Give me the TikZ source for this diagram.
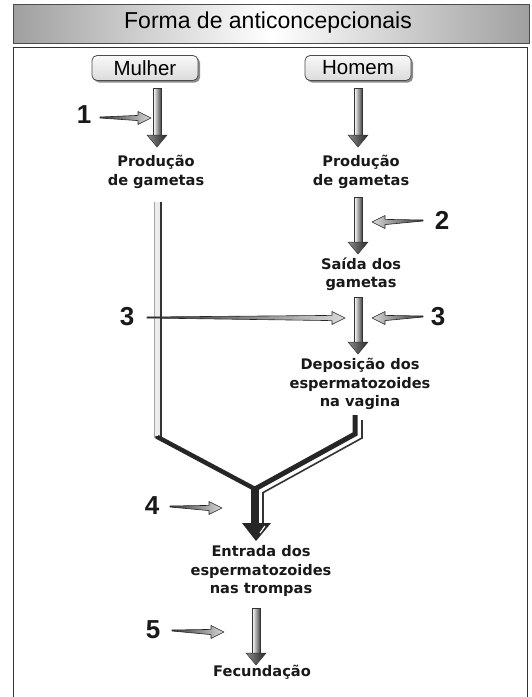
\documentclass[tikz,border=0pt]{standalone}
\usepackage{fontspec}
\setmainfont{Liberation Sans}
\newfontfamily\lblfont{DejaVu Sans}
\usetikzlibrary{calc,shadows}
\newcommand\dnarrow[2]{%
  \shade[shaftst] ($(#1)+(-3.8,0)$) rectangle ($(#2)+(3.8,-12)$);
  \shade[headst] ($(#2)+(-10,-12)$) -- ($(#2)+(10,-12)$) -- (#2) -- cycle;
}
% #1 tail, #2 tip, #3 head length (signed), #4 style
\newcommand\ptrarrow[4]{%
  \shade[#4] (#1) -- ($(#2)+(#3,-2.6)$) -- ($(#2)+(#3,-6.5)$) -- (#2) -- ($(#2)+(#3,6.5)$) -- ($(#2)+(#3,2.6)$) -- ($(#1)+(0,1)$) -- cycle;
}
\begin{document}
\begin{tikzpicture}[x=1pt,y=-1pt,
  lbl/.style={font=\lblfont\bfseries\fontsize{14.6}{18.5}\selectfont, align=center, text=black!90, inner sep=0pt},
  num/.style={font=\bfseries\fontsize{26}{26}\selectfont, inner sep=0pt, text=black!90},
  sexbox/.style={draw=black!70, line width=0.8pt, rounded corners=5pt, top color=gray!5, bottom color=gray!28, minimum width=106pt, minimum height=25pt, font=\fontsize{20.5}{20.5}\selectfont, inner sep=0pt, drop shadow={shadow xshift=2pt, shadow yshift=-2pt, fill=black!45, opacity=1}},
  shaftst/.style={left color=white, right color=black!70, draw=black!80, line width=0.5pt},
  headst/.style={left color=black!45, right color=black!85, draw=black!80, line width=0.5pt},
  ptrR/.style={left color=black!80, right color=gray!30, draw=black!85, line width=0.6pt, line join=round},
  ptrL/.style={left color=gray!30, right color=black!80, draw=black!85, line width=0.6pt, line join=round},
  branch/.style={black!85, line join=miter}
]
\useasboundingbox (0,0) rectangle (531,697);
\fill[white] (0,0) rectangle (531,697);
% title bar and frame
\shade[left color=gray!75, right color=gray!75, middle color=white, draw=black!70, line width=0.8pt] (13,4) rectangle (529,43);
\node[font=\fontsize{23}{23}\selectfont, inner sep=0pt] (title) at (268,23) {Forma de anticoncepcionais};
\draw[black!80, line width=0.8pt] (13,705) -- (13,47) -- (527,47) -- (527,705);

% boxes
\node[sexbox] (mulher) at (145,68) {Mulher};
\node[sexbox] (homem) at (358,68) {Homem};

% coordinates
\coordinate (a1t) at (157,88);  \coordinate (a1b) at (157,147);
\coordinate (h1t) at (358,88);  \coordinate (h1b) at (358,147);
\coordinate (h2t) at (358,197); \coordinate (h2b) at (358,254);
\coordinate (h3t) at (358,297); \coordinate (h3b) at (358,354);
\coordinate (f1t) at (256,608); \coordinate (f1b) at (256,665);

% labels
\node[lbl] (prodM) at (156,172) {Produção\\de gametas};
\node[lbl] (prodH) at (361,172) {Produção\\de gametas};
\node[lbl] (saida) at (361,274) {Saída dos\\gametas};
\node[lbl] (depos) at (360,384) {Deposição dos\\espermatozoides\\na vagina};
\node[lbl] (entrada) at (261,571) {Entrada dos\\espermatozoides\\nas trompas};
\node[lbl] (fecund) at (262,672) {Fecundação};

% big arrows
\dnarrow{a1t}{a1b}
\dnarrow{h1t}{h1b}
\dnarrow{h2t}{h2b}
\dnarrow{h3t}{h3b}
\dnarrow{f1t}{f1b}

% left branch
\fill[gray!15] (154,202) rectangle (161,438);
\draw[gray!70, line width=1.2pt] (154.5,202) -- (154.5,438);
\draw[black!80, line width=2pt] (161,202) -- (161,438);
\coordinate (lb1) at (157.5,437);
\coordinate (jn) at (255,489);
\draw[branch, line width=4.5pt] (157.5,436) -- (lb1) -- (jn);
% right branch
\coordinate (rb0) at (355,415); \coordinate (rb1) at (355,434);
\draw[branch, line width=5pt] (rb0) -- (rb1) -- (jn);
\coordinate (rt0) at (362,420); \coordinate (rt1) at (362,438);
\coordinate (rt2) at (263,492.6); \coordinate (rt3) at (263,527);
\draw[black!80, line width=1.6pt, line join=miter] (rt0) -- (rt1) -- (rt2) -- (rt3);
% merged arrow
\coordinate (jt) at (256,541);
\fill[black!85] (251,486) rectangle (259,525);
\fill[black!85] (242,523) -- (271,523) -- (jt) -- cycle;
\draw[white, line width=1.2pt] (265,526) -- (260,533);

% pointer arrows
\node[num] (n1) at (84,115) {1};
\coordinate (p1a) at (100,117); \coordinate (p1b) at (151,118);
\ptrarrow{p1a}{p1b}{-13}{ptrR}
\node[num] (n2) at (442,220) {2};
\coordinate (p2a) at (423,220); \coordinate (p2b) at (372,222);
\ptrarrow{p2a}{p2b}{13}{ptrL}
\node[num] (n3l) at (127,317) {3};
\coordinate (p3a) at (147,317); \coordinate (p3b) at (345,318);
\ptrarrow{p3a}{p3b}{-13}{ptrR}
\node[num] (n3r) at (438,317) {3};
\coordinate (p4a) at (423,316); \coordinate (p4b) at (372,318);
\ptrarrow{p4a}{p4b}{13}{ptrL}
\node[num] (n4) at (152,506) {4};
\coordinate (p5a) at (170,506); \coordinate (p5b) at (222,508);
\ptrarrow{p5a}{p5b}{-13}{ptrR}
\node[num] (n5) at (153,630) {5};
\coordinate (p6a) at (172,630); \coordinate (p6b) at (224,632);
\ptrarrow{p6a}{p6b}{-13}{ptrR}
\end{tikzpicture}
\end{document}
